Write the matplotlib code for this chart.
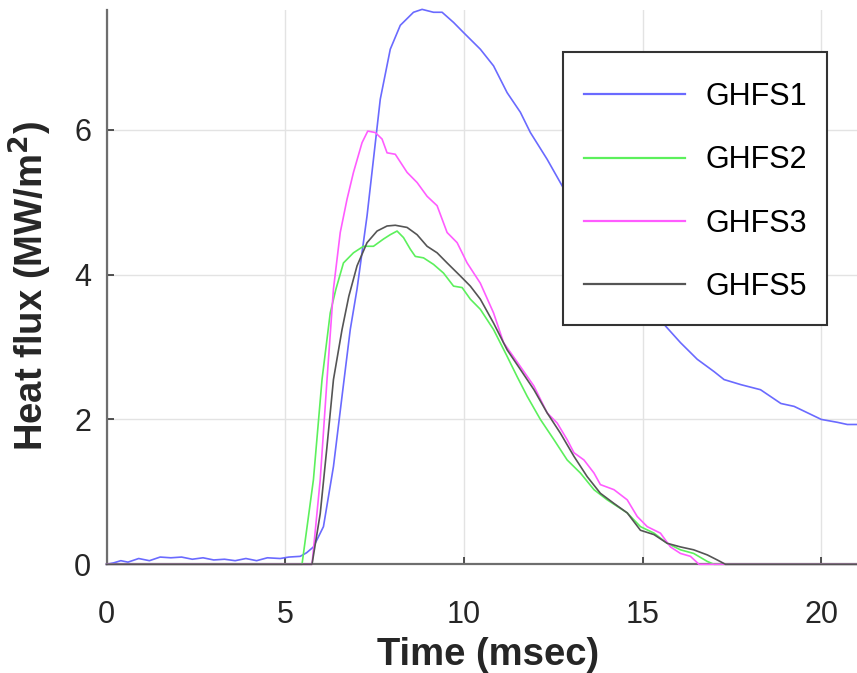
import matplotlib
matplotlib.use("Agg")
import matplotlib.pyplot as plt
from matplotlib.patches import Rectangle

plt.rcParams['font.family'] = ['Liberation Sans', 'DejaVu Sans']

# Time axis (msec) and heat flux (MW/m^2) for each gauge
t_ghfs1 = [0.0, 0.2, 0.4, 0.6, 0.9, 1.2, 1.5, 1.8, 2.1, 2.4, 2.7, 3.0, 3.3, 3.6, 3.9,
           4.2, 4.5, 4.86, 5.1, 5.42, 5.6, 5.79, 6.07, 6.35, 6.59, 6.82, 7.01, 7.29,
           7.66, 7.94, 8.22, 8.59, 8.83, 9.15, 9.39, 9.71, 9.99, 10.46, 10.83, 11.21,
           11.58, 11.86, 12.33, 12.80, 13.5, 14.2, 14.9, 15.64, 16.06, 16.53, 17.0,
           17.28, 17.75, 18.3, 18.87, 19.24, 19.62, 20.0, 20.45, 20.73, 21.0]
q_ghfs1 = [0.0, 0.02, 0.05, 0.03, 0.08, 0.05, 0.10, 0.09, 0.10, 0.07, 0.09, 0.06, 0.07,
           0.05, 0.08, 0.05, 0.09, 0.08, 0.10, 0.11, 0.16, 0.24, 0.52, 1.35, 2.32, 3.24,
           3.80, 4.81, 6.42, 7.11, 7.44, 7.62, 7.66, 7.62, 7.62, 7.48, 7.34, 7.11, 6.88,
           6.51, 6.24, 5.96, 5.59, 5.18, 4.70, 4.22, 3.75, 3.29, 3.06, 2.83, 2.66, 2.55,
           2.48, 2.41, 2.22, 2.18, 2.09, 2.00, 1.96, 1.93, 1.93]

t_ghfs2 = [0.0, 5.47, 5.79, 6.03, 6.26, 6.42, 6.63, 6.91, 7.19, 7.47, 7.75, 7.94, 8.13,
           8.31, 8.50, 8.64, 8.87, 9.15, 9.43, 9.71, 9.95, 10.18, 10.46, 10.83, 11.21,
           11.49, 11.77, 12.14, 12.52, 12.89, 13.26, 13.64, 14.01, 14.57, 14.94, 15.32,
           15.69, 16.06, 16.43, 16.81, 17.0, 21.0]
q_ghfs2 = [0.0, 0.0, 1.17, 2.55, 3.47, 3.80, 4.16, 4.30, 4.39, 4.39, 4.49, 4.55, 4.60,
           4.51, 4.35, 4.25, 4.23, 4.14, 4.02, 3.84, 3.82, 3.66, 3.52, 3.24, 2.87, 2.59,
           2.32, 2.00, 1.72, 1.44, 1.26, 1.03, 0.89, 0.71, 0.52, 0.43, 0.29, 0.20, 0.15,
           0.04, 0.0, 0.0]

t_ghfs3 = [0.0, 5.75, 5.98, 6.17, 6.35, 6.54, 6.73, 6.91, 7.15, 7.31, 7.52, 7.71, 7.85,
           8.08, 8.41, 8.69, 8.97, 9.25, 9.53, 9.81, 10.09, 10.46, 10.83, 11.11, 11.58,
           11.96, 12.33, 12.61, 12.89, 13.08, 13.36, 13.64, 13.82, 14.20, 14.57, 14.85,
           15.13, 15.50, 15.78, 16.06, 16.34, 16.58, 21.0]
q_ghfs3 = [0.0, 0.0, 1.17, 2.55, 3.80, 4.58, 5.04, 5.41, 5.82, 5.98, 5.96, 5.87, 5.68,
           5.66, 5.41, 5.27, 5.08, 4.95, 4.58, 4.44, 4.16, 3.88, 3.47, 3.06, 2.73, 2.46,
           2.09, 1.95, 1.72, 1.54, 1.44, 1.26, 1.10, 1.03, 0.89, 0.66, 0.52, 0.43, 0.24,
           0.15, 0.11, 0.0, 0.0]

t_ghfs5 = [0.0, 5.75, 5.98, 6.17, 6.35, 6.59, 6.78, 7.01, 7.29, 7.57, 7.85, 8.08, 8.41,
           8.69, 8.97, 9.25, 9.53, 9.90, 10.18, 10.46, 10.83, 11.21, 11.58, 11.96, 12.33,
           12.70, 13.08, 13.45, 13.82, 14.20, 14.57, 14.94, 15.32, 15.69, 16.06, 16.43,
           16.81, 17.09, 17.32, 21.0]
q_ghfs5 = [0.0, 0.0, 0.70, 1.63, 2.55, 3.24, 3.70, 4.12, 4.44, 4.60, 4.67, 4.68, 4.65,
           4.55, 4.39, 4.30, 4.16, 3.98, 3.84, 3.66, 3.33, 2.96, 2.69, 2.41, 2.09, 1.81,
           1.49, 1.21, 0.98, 0.84, 0.71, 0.47, 0.41, 0.29, 0.24, 0.20, 0.13, 0.06, 0.0,
           0.0]

series = [
    ("GHFS1", t_ghfs1, q_ghfs1, "#6a6aff"),
    ("GHFS2", t_ghfs2, q_ghfs2, "#5cf05c"),
    ("GHFS3", t_ghfs3, q_ghfs3, "#ff5cff"),
    ("GHFS5", t_ghfs5, q_ghfs5, "#555555"),
]

x_ticks = [0, 5, 10, 15, 20]
y_ticks = [0, 2, 4, 6]

W, H = 857, 673
fig = plt.figure(figsize=(W / 100, H / 100), dpi=100)
ax = fig.add_axes([0.1243, 0.1615, 0.8757, 0.8235])

for name, t, q, c in series:
    ax.plot(t, q, color=c, lw=1.2, label=name, clip_on=False, zorder=3)

ax.set_xlim(0, 21)
ax.set_ylim(0, 7.65)
ax.set_xticks(x_ticks)
ax.set_yticks(y_ticks)
ax.grid(True, color="#e3e3e3", lw=1.0)
ax.set_axisbelow(True)

for side in ("top", "right"):
    ax.spines[side].set_visible(False)
for side in ("left", "bottom"):
    ax.spines[side].set_color("#6e6e6e")
    ax.spines[side].set_linewidth(1.6)

ax.tick_params(direction="in", length=5, width=1.2, color="#333333",
               labelsize=22, labelcolor="#262626")
ax.tick_params(axis="x", pad=26)
ax.tick_params(axis="y", pad=11)

ax.set_xlabel("Time (msec)", fontsize=27.5, fontweight="bold", color="#262626")
ax.set_ylabel("Heat flux (MW/m$^\\mathbf{2}$)", fontsize=27.5, fontweight="bold",
              color="#262626")
ax.xaxis.set_label_coords(0.508, -0.1636)
ax.xaxis.label.set_va("center")
ax.yaxis.set_label_coords(-0.102, 0.503)
ax.yaxis.label.set_va("center")

# Legend box (white panel with dark frame) and frameless entries on top
box_l, box_t, box_r, box_b = 563, 52, 827, 325
fig.add_artist(Rectangle((box_l / W, 1 - box_b / H), (box_r - box_l) / W,
                         (box_b - box_t) / H, transform=fig.transFigure,
                         facecolor="white", edgecolor="#333333", lw=1.5,
                         zorder=4))
leg = fig.legend(loc="upper left", bbox_to_anchor=(box_l / W, 1 - 61 / H),
                 borderaxespad=0.0, fontsize=22, handlelength=3.3,
                 handletextpad=0.68, labelspacing=1.09, borderpad=0.687,
                 frameon=False)
leg.set_zorder(5)
for line in leg.get_lines():
    line.set_linewidth(1.6)

fig.savefig("out.png", dpi=100)
